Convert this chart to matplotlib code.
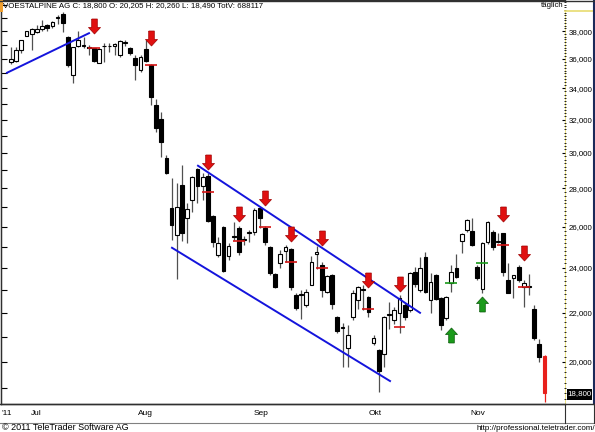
import numpy as np
import matplotlib
matplotlib.use('Agg')
import matplotlib.pyplot as plt
from matplotlib.lines import Line2D
from matplotlib.patches import Rectangle
from matplotlib.transforms import blended_transform_factory
from matplotlib.ticker import FixedLocator, FuncFormatter, NullFormatter, NullLocator

plt.rcParams['font.family'] = ['Liberation Sans', 'DejaVu Sans']

# daily OHLC, 28.06.2011 - 18.11.2011
opens = [35.78, 35.88, 36.60, 37.68, 37.78, 37.95, 38.17, 38.47, 38.35, 39.00,
         39.28, 37.54, 34.87, 36.95, 36.95, 36.85, 36.76, 35.75, 36.90, 36.95,
         36.95, 36.28, 37.17, 36.81, 36.04, 35.21, 36.69, 35.55, 32.95, 32.07,
         29.73, 26.97, 25.59, 28.21, 26.45, 27.39, 29.10, 28.15, 28.70, 26.56,
         24.61, 25.99, 24.57, 25.54, 25.94, 25.34, 25.69, 25.74, 26.97, 25.94,
         25.00, 23.72, 24.23, 24.80, 24.90, 22.77, 22.75, 22.33, 23.22, 24.65,
         24.14, 22.90, 23.67, 21.82, 21.35, 20.54, 21.82, 22.55, 23.00, 22.68,
         20.74, 20.46, 20.30, 21.90, 21.69, 21.99, 22.33, 22.12, 23.81, 22.99,
         24.52, 22.55, 23.67, 22.64, 21.77, 23.31, 24.00, 25.29, 25.84, 25.79,
         24.05, 23.04, 25.24, 25.74, 25.25, 25.69, 23.44, 23.54, 24.05, 23.13,
         23.13, 22.16, 20.70, 20.205]
highs = [36.85, 36.88, 37.37, 38.02, 38.27, 38.45, 38.84, 38.52, 38.77, 39.20,
         39.43, 37.61, 36.88, 38.00, 37.54, 37.00, 36.81, 36.76, 37.12, 37.12,
         37.12, 37.37, 37.32, 36.88, 36.28, 36.28, 37.37, 35.62, 33.34, 32.50,
         29.90, 28.58, 28.32, 29.32, 27.24, 28.70, 29.15, 28.87, 28.87, 26.61,
         25.49, 26.04, 25.19, 26.25, 26.04, 25.54, 25.84, 26.97, 27.02, 26.04,
         25.05, 23.77, 24.85, 25.10, 24.95, 22.86, 22.99, 23.04, 24.57, 25.05,
         24.28, 23.67, 23.72, 21.87, 21.57, 21.48, 22.99, 23.17, 23.20, 22.72,
         21.06, 20.50, 21.87, 22.46, 22.25, 22.77, 22.42, 23.81, 24.05, 24.52,
         24.76, 23.77, 23.72, 22.68, 22.72, 24.14, 24.66, 25.69, 26.40, 26.45,
         24.14, 25.24, 26.30, 25.84, 25.69, 25.69, 24.23, 23.67, 24.14, 23.44,
         23.72, 22.33, 20.90, 20.26]
lows = [35.68, 35.80, 36.40, 37.61, 36.64, 37.85, 38.00, 38.03, 38.22, 38.50,
        37.93, 35.45, 34.37, 36.88, 36.76, 36.28, 35.80, 35.70, 35.80, 36.52,
        36.28, 36.16, 36.95, 36.28, 34.53, 35.10, 35.80, 32.95, 31.27, 29.78,
        28.80, 25.34, 23.50, 25.30, 25.20, 26.76, 27.24, 27.39, 26.25, 25.00,
        24.52, 23.81, 24.37, 25.34, 24.61, 25.10, 25.24, 25.59, 25.94, 25.10,
        23.67, 23.08, 24.00, 24.28, 22.99, 22.12, 21.73, 22.25, 23.20, 23.95,
        22.68, 22.86, 22.16, 21.15, 19.80, 19.80, 21.69, 22.16, 22.12, 21.82,
        20.66, 18.85, 19.80, 21.30, 21.50, 21.15, 21.70, 22.03, 23.13, 22.90,
        22.86, 21.99, 22.55, 21.27, 21.70, 22.90, 23.54, 24.71, 25.74, 25.05,
        23.44, 22.86, 25.15, 24.85, 25.19, 23.63, 22.86, 22.64, 23.36, 22.25,
        22.77, 20.86, 20.00, 18.49]
closes = [36.00, 36.64, 37.32, 38.00, 38.15, 38.15, 38.39, 38.22, 38.65, 39.05,
          38.60, 35.56, 36.83, 37.37, 37.00, 36.80, 35.88, 36.71, 36.95, 36.92,
          37.05, 37.25, 37.20, 36.40, 35.56, 36.16, 35.88, 33.41, 31.51, 30.61,
          28.87, 26.09, 27.02, 25.69, 26.92, 28.65, 28.15, 28.65, 26.30, 25.24,
          25.19, 23.86, 25.05, 25.49, 24.76, 25.39, 25.74, 26.87, 26.45, 25.24,
          23.77, 23.13, 24.66, 25.00, 23.13, 22.20, 22.80, 22.90, 24.28, 24.75,
          22.99, 23.63, 22.38, 21.22, 21.40, 21.06, 22.86, 23.13, 23.04, 22.03,
          20.94, 19.65, 21.83, 21.95, 22.12, 22.64, 21.82, 23.77, 23.26, 24.00,
          22.90, 23.36, 22.60, 21.48, 22.68, 23.81, 23.58, 25.64, 26.35, 25.10,
          23.54, 25.19, 26.25, 25.00, 25.29, 23.81, 22.86, 23.67, 23.44, 23.31,
          23.15, 20.94, 20.18, 18.80]

months = ['Jul', 'Aug', 'Sep', 'Okt', 'Nov']
month_pos = [3.9, 24.6, 46.8, 69.1, 88.7]

# trend lines (candle index, price) -> (candle index, price)
trend_lines = [(-0.77, 35.05, 15.06, 37.85),
               (36.1, 29.26, 78.96, 21.99),
               (31.08, 24.95, 73.17, 19.26)]

# signals: candle index, arrow price, marked level
sell_idx = [16, 27, 38, 44, 49, 54, 60, 69, 75, 95, 99]
sell_arrow = [38.41, 37.49, 29.47, 26.63, 27.47, 25.64, 25.42, 23.42, 23.26, 26.63, 24.71]
sell_level = [36.81, 35.55, 27.83, 25.29, 25.99, 24.28, 24.00, 22.16, 21.40, 25.10, 23.13]
buy_idx = [85, 91]
buy_arrow = [21.05, 22.35]
buy_level = [23.31, 24.23]

W, H = 595, 432
fig = plt.figure(figsize=(W / 100, H / 100), dpi=100)
fig.patch.set_facecolor('white')


def fx(x):
    return x / W


def fy(y):
    return 1 - y / H


def fig_line(xs, ys, **kw):
    fig.add_artist(Line2D([fx(x) for x in xs], [fy(y) for y in ys],
                          transform=fig.transFigure, **kw))


ax = fig.add_axes([fx(0.5), fy(404), (565 - 0.5) / W, 404 / H])
ax.set_yscale('log')
ax.set_xlim((0.5 - 11) / 5.18, (565 - 11) / 5.18)
ax.set_ylim(18.42, 40.37)

o = np.array(opens)
h = np.array(highs)
l = np.array(lows)
c = np.array(closes)
idx = np.arange(len(o))
lo = np.minimum(o, c)
hi = np.maximum(o, c)
face = np.where(c >= o, 'white', 'black').astype(object)
edge = np.array(['black'] * len(o), dtype=object)
wick = np.array(['#505050'] * len(o), dtype=object)
face[-1] = edge[-1] = wick[-1] = '#e8201c'

ax.vlines(idx, l, h, colors=list(wick), lw=0.9, zorder=2)
ax.bar(idx, hi - lo, bottom=lo, width=0.72, color=list(face),
       edgecolor=list(edge), linewidth=0.8, zorder=3)

for x0, p0, x1, p1 in trend_lines:
    ax.plot([x0, x1], [p0, p1], color='#1414dc', lw=1.4, zorder=4)

si = np.array(sell_idx)
bi = np.array(buy_idx)
ax.hlines(sell_level, si - 1.15, si + 1.15, color='#d41414', lw=1.2, zorder=5)
ax.hlines(buy_level, bi - 1.15, bi + 1.15, color='#1a9a1a', lw=1.2, zorder=5)

down = [(-2.8, 7.5), (2.8, 7.5), (2.8, -1.0), (6, -1.0), (0, -7.5),
        (-6, -1.0), (-2.8, -1.0), (-2.8, 7.5)]
up = [(x, -y) for x, y in down]
ax.plot(si, sell_arrow, ls='none', marker=down, ms=10.8,
        mfc='#e01010', mec='#a00000', mew=0.5, zorder=6)
ax.plot(bi, buy_arrow, ls='none', marker=up, ms=10.8,
        mfc='#1a9a1a', mec='#0a5a0a', mew=0.5, zorder=6)

# axes styling
for s in ['top', 'left', 'bottom']:
    ax.spines[s].set_color('#303030')
    ax.spines[s].set_linewidth(1)
ax.spines['right'].set_visible(False)
ax.tick_params(axis='x', bottom=False, labelbottom=False)

ax.yaxis.tick_right()
ax.yaxis.set_major_locator(FixedLocator(np.arange(20, 40, 2)))
ax.yaxis.set_minor_locator(FixedLocator(np.arange(18.6, 40.3, 0.2)))
ax.yaxis.set_major_formatter(FuncFormatter(lambda v, p: f'{v:.3f}'.replace('.', ',')))
ax.yaxis.set_minor_formatter(NullFormatter())
ax.tick_params(axis='y', which='major', direction='in', length=2.5, width=0.8,
               color='black', labelsize=5.7, pad=2.5)
ax.tick_params(axis='y', which='minor', direction='inout', length=1.2, width=0.6,
               color='black')

sec = ax.secondary_yaxis('left')
sec.yaxis.set_major_locator(FixedLocator(np.arange(19, 41, 1)))
sec.yaxis.set_minor_locator(NullLocator())
sec.yaxis.set_major_formatter(NullFormatter())
sec.tick_params(direction='in', length=4, width=0.8, color='black')
sec.spines['left'].set_color('#303030')

# frame pieces around the price axis
fig_line([565, 565], [11, 404], color='#e8dc70', lw=1.2, zorder=0)
fig_line([565, 593], [11, 11], color='#e8dc70', lw=1.2)
fig_line([594, 594], [0, 404], color='#1c2a5a', lw=1.5)
fig_line([0, 595], [0.5, 0.5], color='#303030', lw=1)
fig_line([0, 595], [404, 404], color='#303030', lw=1)
fig_line([0, 595], [423, 423], color='#808080', lw=0.8)
fig_line([565, 565], [404, 423], color='#303030', lw=0.8)
fig_line([594, 594], [404, 423], color='#303030', lw=0.8)
fig.add_artist(Rectangle((fx(0), fy(12)), fx(3), 12 / H, transform=fig.transFigure,
                         color='#f0a030', lw=0))

fig.text(fx(3), fy(5.5), 'VOESTALPINE AG C: 18,800 O: 20,205 H: 20,260 L: 18,490 TotV: 688117',
         fontsize=5.7, va='center', ha='left')
fig.text(fx(563), fy(5.5), 'täglich', fontsize=5.6, va='center', ha='right')

fig.add_artist(Rectangle((fx(566.5), fy(399.5)), 25.5 / W, 11 / H,
                         transform=fig.transFigure, color='black', lw=0))
fig.text(fx(579), fy(394), '18,800', color='white', fontsize=5.7, ha='center', va='center')

tr = blended_transform_factory(ax.transData, fig.transFigure)
fig.text(fx(2), fy(413.5), "'11", fontsize=6, va='center', ha='left')
for m, p in zip(months, month_pos):
    ax.text(p, fy(413.5), m, transform=tr, fontsize=6, va='center', ha='left')

fig.text(fx(2), fy(428), '© 2011 TeleTrader Software AG', fontsize=6.5, va='center', ha='left')
fig.text(fx(595), fy(428), 'http://professional.teletrader.com/', fontsize=5.8,
         va='center', ha='right')

fig.savefig('out.png', dpi=100)
